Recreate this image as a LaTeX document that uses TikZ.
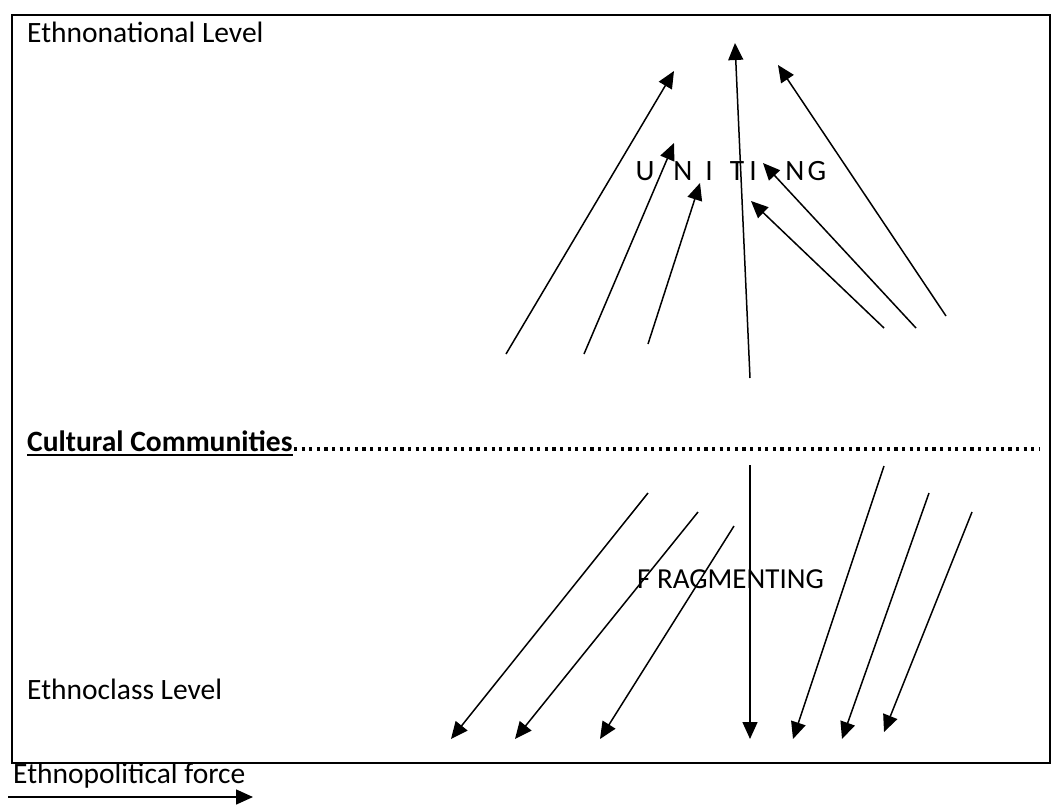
\documentclass[tikz,border=0pt]{standalone}
\usepackage{fontspec}
\setmainfont{Carlito}
\usetikzlibrary{arrows.meta}
\begin{document}
\begin{tikzpicture}[x=1pt,y=-1pt,
  lbl/.style={anchor=base west,inner sep=0pt,font=\fontsize{29.5}{34}\selectfont},
  letter/.style={anchor=base,inner sep=0pt,font=\fontsize{29.5}{34}\selectfont},
  force/.style={line width=1.5pt,-{Triangle[length=17pt,width=15pt]}},
  frame/.style={line width=2pt}]
\useasboundingbox (0,0) rectangle (1053,806);
\fill[white] (0,0) rectangle (1053,806);
% frame
\coordinate (tl) at (12,15);
\coordinate (br) at (1050,763);
\draw[frame] (tl) rectangle (br);
% labels
\node[lbl] (natl) at (27,42) {Ethnonational Level};
\node[lbl] (cult) at (27,451) {\textbf{Cultural Communities}};
\coordinate (dotsA) at (294,449);
\coordinate (dotsB) at (1040,449);
\draw[line width=3.2pt,dash pattern=on 3.2pt off 4.4pt] (dotsA) -- (dotsB);
\draw[line width=1.6pt] ([yshift=-4pt]cult.base west) -- ([yshift=-4pt]cult.base east);
\node[lbl] (eclass) at (27,699) {Ethnoclass Level};
\node[lbl] (epf) at (13,783) {Ethnopolitical force};
% legend arrow
\coordinate (la) at (8,797);
\coordinate (lb) at (253,797);
\draw[force] (la) -- (lb);
% UNITING letters
\node[letter] (u1) at (645,180) {U};
\node[letter] (u2) at (683,180) {N};
\node[letter] (u3) at (709,180) {I};
\node[letter] (u4) at (737,180) {T};
\node[letter] (u5) at (753,180) {I};
\node[letter] (u6) at (795,180) {N};
\node[letter] (u7) at (817,180) {G};
% FRAGMENTING
\node[lbl,font=\fontsize{29}{34}\selectfont] (frag) at (637,588) {F RAGMENTING};
% upward arrows (uniting)
\coordinate (a1) at (506,354); \coordinate (b1) at (674,71);
\coordinate (a2) at (584,354); \coordinate (b2) at (674,143);
\coordinate (a3) at (648,344); \coordinate (b3) at (700,183);
\coordinate (a4) at (750,378); \coordinate (b4) at (735,43);
\coordinate (a5) at (884,328); \coordinate (b5) at (751,201);
\coordinate (a6) at (916,328); \coordinate (b6) at (763,163);
\coordinate (a7) at (946,316); \coordinate (b7) at (778,65);
\foreach \i in {1,...,7}{\draw[force] (a\i) -- (b\i);}
% downward arrows (fragmenting)
\coordinate (c1) at (648,493); \coordinate (d1) at (451,739);
\coordinate (c2) at (698,512); \coordinate (d2) at (515,739);
\coordinate (c3) at (734,526); \coordinate (d3) at (600,739);
\coordinate (c4) at (750,465); \coordinate (d4) at (750,739);
\coordinate (c5) at (884,466); \coordinate (d5) at (793,739);
\coordinate (c6) at (929,493); \coordinate (d6) at (842,739);
\coordinate (c7) at (972,512); \coordinate (d7) at (884,732);
\foreach \i in {1,...,7}{\draw[force] (c\i) -- (d\i);}
\end{tikzpicture}
\end{document}
